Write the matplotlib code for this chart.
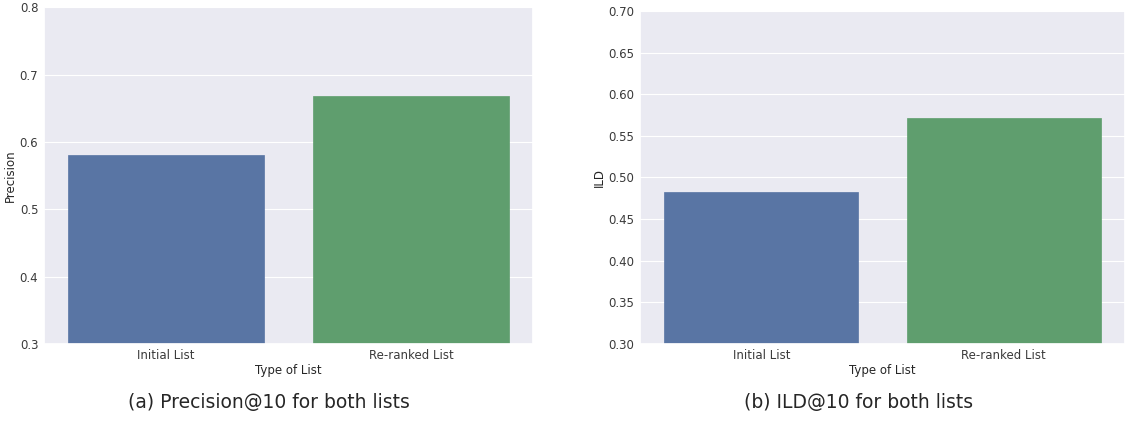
import matplotlib
matplotlib.use("Agg")
import matplotlib.pyplot as plt
import seaborn as sns

# data
list_types = ["Initial List", "Re-ranked List"]
precision = [0.580, 0.668]
ild = [0.482, 0.571]

sns.set_theme(style="darkgrid")
plt.rcParams['font.family'] = ['DejaVu Sans']
plt.rcParams['grid.linewidth'] = 0.8
colors = ["#4C72B0", "#55A868"]  # old seaborn "deep"

fig = plt.figure(figsize=(11.25, 4.23), dpi=100)
ax1 = fig.add_axes([0.039, 0.187, 0.435, 0.796])
ax2 = fig.add_axes([0.569, 0.187, 0.431, 0.787])

sns.barplot(x=list_types, y=precision, hue=list_types, palette=colors,
            legend=False, ax=ax1, width=0.8, saturation=0.75)
ax1.set_ylim(0.3, 0.8)
ax1.set_yticks([0.3, 0.4, 0.5, 0.6, 0.7, 0.8])
ax1.set_ylabel("Precision", fontsize=8.5, labelpad=2)

sns.barplot(x=list_types, y=ild, hue=list_types, palette=colors,
            legend=False, ax=ax2, width=0.8, saturation=0.75)
ax2.set_ylim(0.3, 0.7)
ax2.set_yticks([0.30, 0.35, 0.40, 0.45, 0.50, 0.55, 0.60, 0.65, 0.70])
ax2.set_yticklabels(["%.2f" % v for v in ax2.get_yticks()])
ax2.set_ylabel("ILD", fontsize=8.5, labelpad=2)

for ax in (ax1, ax2):
    for p in ax.patches:
        p.set_edgecolor(p.get_facecolor())
        p.set_linewidth(0.5)
    ax.set_xlabel("Type of List", fontsize=8.5, labelpad=1)
    ax.tick_params(labelsize=8.5, length=0, pad=4, labelcolor="#3a3a3a")
    ax.xaxis.grid(False)

fig.text(0.239, 0.035, "(a) Precision@10 for both lists", ha="center", fontsize=13.5)
fig.text(0.763, 0.035, "(b) ILD@10 for both lists", ha="center", fontsize=13.5)

fig.savefig("out.png", dpi=100, facecolor="white")
